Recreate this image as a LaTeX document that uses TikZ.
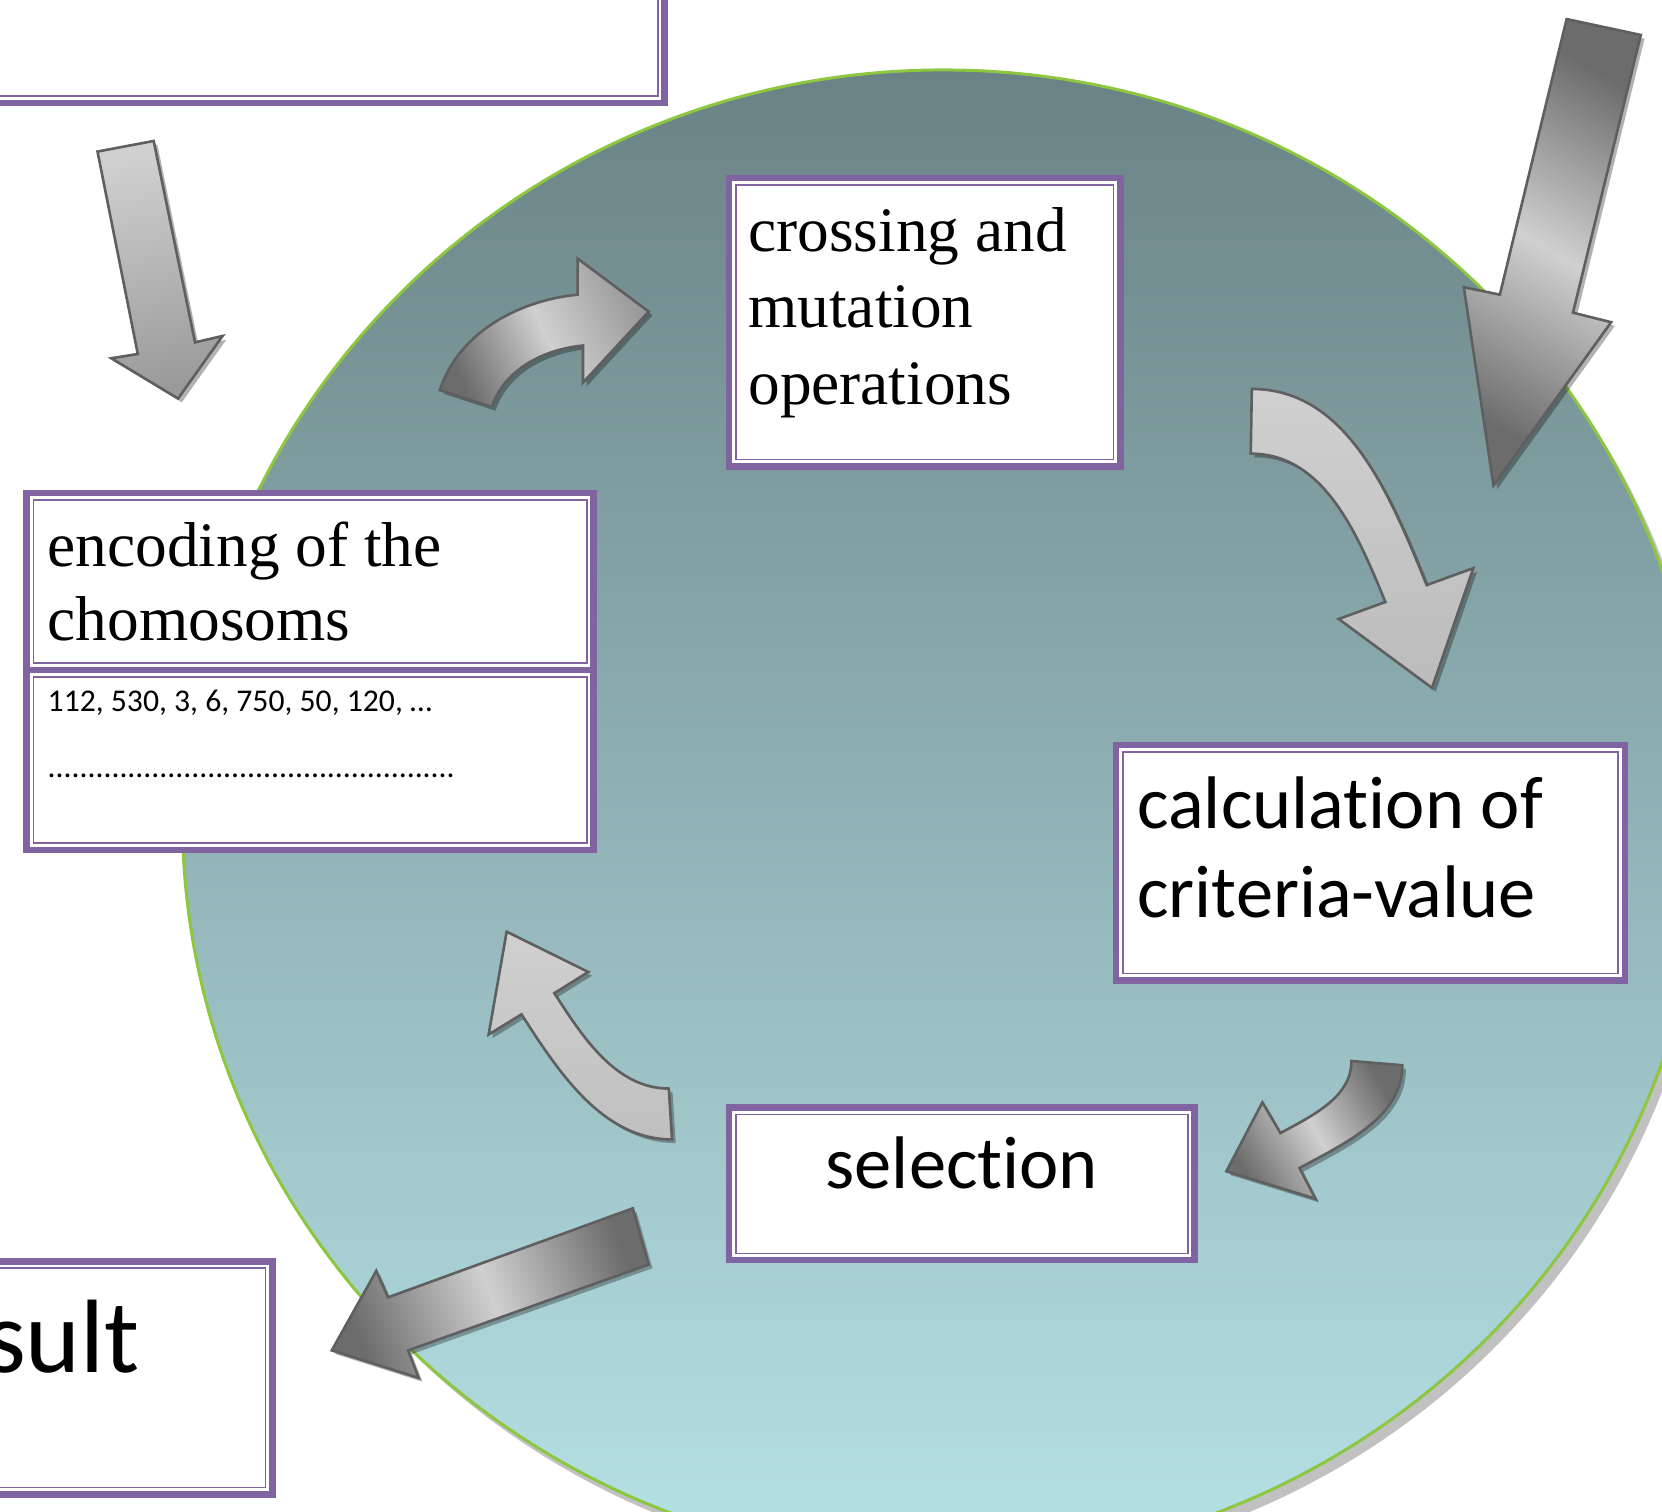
\documentclass[tikz,border=0pt]{standalone}
\usepackage{fontspec}
\setmainfont{Liberation Serif}
\newfontfamily\calibri[Ligatures=CommonOff]{Carlito}
\usetikzlibrary{shadows,shapes.geometric}
\definecolor{boxpurple}{HTML}{8064A2}
\definecolor{ringgreen}{HTML}{8DC63F}
\definecolor{ringtop}{HTML}{6A8285}
\definecolor{ringbottom}{HTML}{B6E2E6}
\definecolor{arrowline}{HTML}{5F5F5F}
\definecolor{arrowdark}{HTML}{6C6C6C}
\definecolor{arrowmid}{HTML}{9A9A9A}
\definecolor{arrowlight}{HTML}{D0D0D0}

\begin{document}
\begin{tikzpicture}[semithick,
  dbox/.style={rectangle, draw=boxpurple, line width=1.7pt, fill=white, inner ysep=0pt},
  thinframe/.style={draw=boxpurple, line width=0.45pt},
  ring/.style={ellipse, minimum width=14.36cm, minimum height=14.08cm, inner sep=0pt, top color=ringtop, bottom color=ringbottom, draw=ringgreen, line width=0.8pt, drop shadow={shadow xshift=2pt, shadow yshift=-2.5pt, opacity=0.35, fill=black!70}},
  blockarrow/.style={draw=arrowline, line width=0.7pt, line join=miter, drop shadow={shadow xshift=1pt, shadow yshift=-1pt, opacity=0.3, fill=black}}]
\useasboundingbox (0,0) rectangle (15.68,14.26);
\clip (0,0) rectangle (15.68,14.26);
\node[ring] (loop) at (8.90,6.56) {};
\node[dbox, minimum width=7.27cm, minimum height=1.97cm] (init) at (2.635,14.275) {};
\node[dbox, text width=4.95cm, inner xsep=0.2cm, minimum height=1.67cm, align=flush left, font=\fontsize{17}{19.9}\selectfont] (enc) at (2.925,8.775) {encoding of the\\chomosoms};
\node[dbox, text width=4.95cm, inner xsep=0.2cm, minimum height=1.70cm, align=flush left, font=\calibri\fontsize{8.5}{17.6}\selectfont] (code) at (2.925,7.09) {112, 530, 3, 6, 750, 50, 120, …\\...................................................\rule[-0.49cm]{0pt}{0pt}};
\node[dbox, text width=3.33cm, inner xsep=0.18cm, minimum height=2.72cm, align=flush left, font=\fontsize{17}{20.5}\selectfont] (crs) at (8.725,11.22) {crossing and\\mutation\\operations\rule[-0.31cm]{0pt}{0pt}};
\node[dbox, text width=4.4cm, inner xsep=0.2cm, minimum height=2.22cm, align=flush left, font=\calibri\fontsize{20}{23.9}\selectfont] (calc) at (12.93,6.12) {calculation of\\criteria-value\rule[-0.29cm]{0pt}{0pt}};
\node[dbox, minimum width=4.39cm, minimum height=1.44cm, font=\calibri\fontsize{20}{24}\selectfont] (sel) at (9.075,3.09) {selection\rule[-0.41cm]{0pt}{0pt}};
\node[dbox, text width=1.85cm, inner xsep=0.86cm, minimum height=2.2cm, align=flush left, font=\calibri\fontsize{28}{33.6}\selectfont] (res) at (0.785,1.26) {sult\rule[-0.79cm]{0pt}{0pt}};
\foreach \n in {init,enc,code,crs,calc,sel,res}
  \draw[thinframe] ([shift={(0.095,0.095)}]\n.south west) rectangle ([shift={(-0.095,-0.095)}]\n.north east);
\draw[blockarrow, top color=arrowlight, bottom color=arrowmid, shading angle=12] (0.92,12.83) -- (1.45,12.93) -- (1.84,11.03) -- (2.10,11.09) -- (1.68,10.50) -- (1.05,10.88) -- (1.30,10.92) -- cycle;
\draw[blockarrow, top color=arrowdark, bottom color=arrowdark, middle color=arrowlight, shading angle=-30] (14.78,14.08) -- (15.48,13.93) -- (14.84,11.31) -- (15.20,11.22) -- (14.09,9.68) -- (13.81,11.55) -- (14.15,11.48) -- cycle;
\draw[blockarrow, top color=arrowdark, bottom color=arrowdark, middle color=arrowlight, shading angle=-70] (5.97,2.86) -- (6.12,2.33) -- (3.85,1.52) -- (3.95,1.26) -- (3.13,1.52) -- (3.55,2.27) -- (3.66,2.02) -- cycle;
\draw[blockarrow, top color=arrowmid, bottom color=arrowdark, middle color=arrowlight, shading angle=-65] (4.15,10.58) .. controls (4.325,11.12) and (4.887,11.424) .. (5.45,11.48) -- (5.45,11.82) -- (6.12,11.32) -- (5.50,10.65) -- (5.50,11.00) .. controls (5.127,10.963) and (4.756,10.774) .. (4.64,10.42) -- cycle;
\draw[blockarrow, top color=arrowlight, bottom color=arrowlight!90!black] (11.81,10.59) .. controls (12.715,10.59) and (13.116,9.582) .. (13.46,8.74) -- (13.90,8.90) -- (13.51,7.77) -- (12.63,8.42) -- (13.07,8.58) .. controls (12.808,9.221) and (12.489,9.98) .. (11.80,9.98) -- cycle;
\draw[blockarrow, top color=arrowdark, bottom color=arrowdark, middle color=arrowlight, shading angle=-59] (13.23,4.21) .. controls (13.23,3.72) and (12.691,3.475) .. (12.26,3.24) -- (12.41,2.95) -- (11.57,3.21) -- (11.91,3.86) -- (12.08,3.57) .. controls (12.381,3.734) and (12.75,3.908) .. (12.75,4.25) -- cycle;
\draw[blockarrow, top color=arrowlight, bottom color=arrowlight!92!black] (6.34,3.51) .. controls (5.686,3.51) and (5.273,4.141) .. (4.92,4.69) -- (4.61,4.50) -- (4.78,5.47) -- (5.55,5.09) -- (5.23,4.89) .. controls (5.499,4.472) and (5.812,3.99) .. (6.31,3.99) -- cycle;
\end{tikzpicture}
\end{document}
